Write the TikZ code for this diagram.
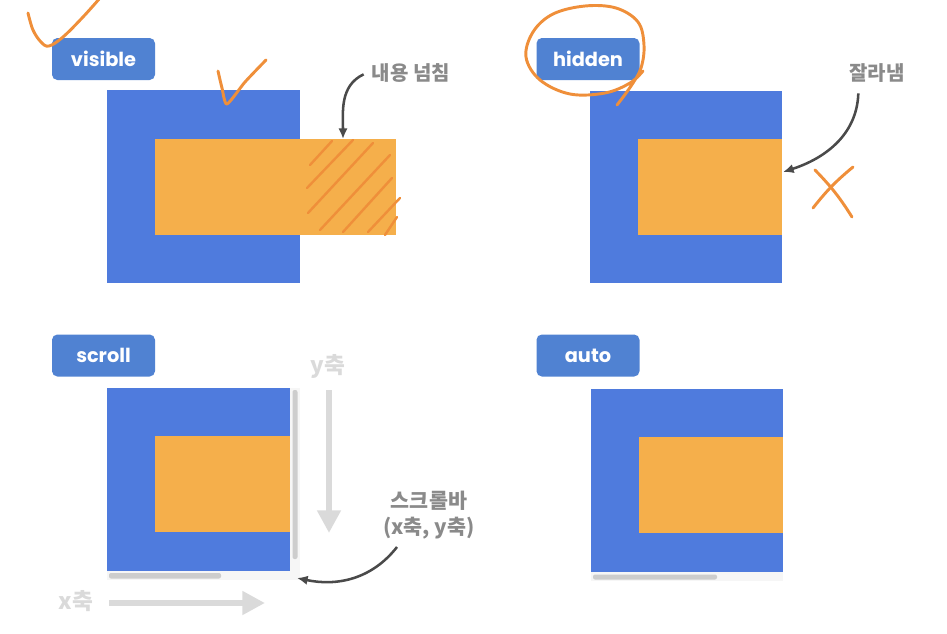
\documentclass[tikz,border=0pt]{standalone}
\usepackage{fontspec}
\setsansfont{Poppins}
\newfontfamily\krfont{Noto Sans CJK KR}
\usetikzlibrary{arrows.meta}
\definecolor{tagblue}{HTML}{5082D2}
\definecolor{boxblue}{HTML}{4F7BDD}
\definecolor{boxorange}{HTML}{F5AF4B}
\definecolor{handorange}{HTML}{EF8F3A}
\definecolor{inkgray}{HTML}{8A8A8A}
\definecolor{arrowink}{HTML}{4A4A4A}
\definecolor{axisgray}{HTML}{DADADA}
\definecolor{trackgray}{HTML}{F6F6F6}
\definecolor{thumbgray}{HTML}{CDCDCD}
\tikzset{
  tagbox/.style={fill=tagblue, rounded corners=4pt, text=white, inner sep=0pt,
    minimum width=77.25pt, minimum height=31.5pt, font=\sffamily\bfseries\fontsize{14.5}{17}\selectfont},
  note/.style={text=inkgray, inner sep=0pt, align=center, font=\krfont\bfseries\fontsize{15}{18}\selectfont},
  axisnote/.style={text=axisgray, inner sep=0pt, font=\krfont\bfseries\fontsize{17}{20}\selectfont},
  callout/.style={-{Latex[length=8pt,width=7pt]}, draw=arrowink, line width=1.9pt},
  axisarrow/.style={-{Triangle[length=17pt,width=17pt]}, draw=axisgray, line width=5pt},
  hand/.style={draw=handorange, line width=2.2pt, line cap=round, line join=round},
  thumb/.style={fill=thumbgray, rounded corners=1.5pt}
}
\begin{document}
\begin{tikzpicture}[x=0.75pt, y=-0.75pt]
\useasboundingbox (0,0) rectangle (947,633);
% visible
\node[tagbox] (tvis) at (103.5,59) {visible};
\fill[boxblue] (107,90) rectangle (300,283);
\fill[boxorange] (155,139) rectangle (396,235);
\node[note] (ovf) at (411,73) {내용 넘침};
\coordinate (ovfend) at (343,139);
\draw[callout] ([xshift=-6pt,yshift=-1pt]ovf.west) to[out=205, in=90] (ovfend);
% hidden
\node[tagbox] (thid) at (588,59) {hidden};
\fill[boxblue] (590,91) rectangle (782,283);
\fill[boxorange] (638,139) rectangle (782,235);
\node[note] (clip) at (877,73) {잘라냄};
\coordinate (clipend) at (783,172);
\draw[callout] ([xshift=-14pt,yshift=-8pt]clip.south) to[out=-92, in=18] (clipend);
% scroll
\node[tagbox] (tscr) at (103.5,355.5) {scroll};
\fill[trackgray] (107,388) rectangle (300,580);
\fill[boxblue] (107,388) rectangle (290,571);
\fill[boxorange] (155,436) rectangle (290,532);
\fill[thumb] (292.5,390) rectangle (297.5,559);
\fill[thumb] (109,573) rectangle (221,578.5);
\node[axisnote] (ylab) at (328,366) {y축};
\node[axisnote] (xlab) at (76,601) {x축};
\coordinate (ytail) at (329,390);
\coordinate (ytip) at (329,533);
\coordinate (xtail) at (109,603);
\coordinate (xtip) at (265,603);
\draw[axisarrow] (ytail) -- (ytip);
\draw[axisarrow] (xtail) -- (xtip);
\node[note, font=\krfont\bfseries\fontsize{15.5}{19}\selectfont] (bar) at (429,515) {스크롤바\\(x축, y축)};
\coordinate (barend) at (297,578);
\draw[callout] ([xshift=-24pt,yshift=-6pt]bar.south) to[out=-128, in=-12] (barend);
% auto
\node[tagbox] (taut) at (588,355.5) {auto};
\fill[trackgray] (591,389) rectangle (783,581);
\fill[boxblue] (591,389) rectangle (783,572);
\fill[boxorange] (639,437) rectangle (783,533);
\fill[thumb] (593,574.5) rectangle (717,579.5);
% hand marks
\draw[hand] plot[smooth, tension=0.6] coordinates {(28,13) (33,30) (41,42) (49,46) (63,37) (83,17) (100,-2)};
\draw[hand] plot[smooth, tension=0.4] coordinates {(218,71) (222,88) (227,104) (245,82) (266,60)};
\foreach \ax/\ay/\bx/\by in {310/165/332/141, 307/188/353/140, 308/213/373/143, 320/230/390/155,
  343/232/392/178, 368/232/400/198, 385/235/397/217}
  \draw[hand, line width=1.8pt] (\ax,\ay) -- (\bx,\by);
\draw[hand] plot[smooth, tension=0.6] coordinates {(617,105) (631,86) (641,68) (644,45) (638,22) (616,8) (585,6) (553,14) (533,32) (526,57) (540,80) (570,94) (605,93) (630,83) (643,71)};
\draw[hand] (813,208) to[bend left=6] (853,167);
\draw[hand] (815,170) to[bend left=6] (852,217);
\end{tikzpicture}
\end{document}
